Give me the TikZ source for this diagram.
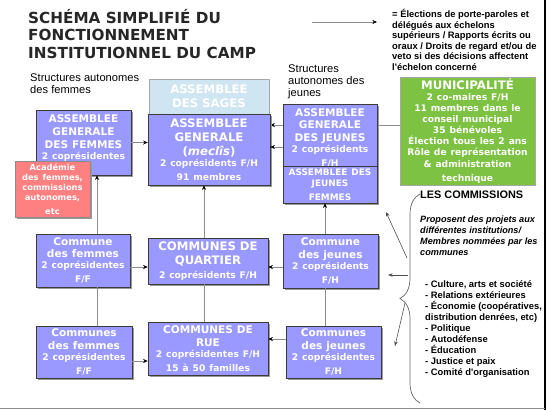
\documentclass[tikz,border=0pt]{standalone}
\usepackage{fontspec}
\setmainfont{DejaVu Sans}
\newfontfamily\arialfont{Liberation Sans}
\usetikzlibrary{arrows.meta,shadows,backgrounds,decorations.pathreplacing}

\definecolor{boxfill}{RGB}{153,153,255}
\definecolor{boxline}{RGB}{60,60,60}
\definecolor{sagesfill}{RGB}{207,229,242}
\definecolor{acadfill}{RGB}{255,128,128}
\definecolor{munifill}{RGB}{125,194,66}
\definecolor{linkgray}{RGB}{140,140,140}

\newcommand{\bigsz}{\fontsize{10}{12}\selectfont}
\newcommand{\midsz}{\fontsize{9}{11}\selectfont}
\newcommand{\smallsz}{\fontsize{7.8}{9.4}\selectfont}
\newcommand{\tinysz}{\fontsize{7.1}{8.5}\selectfont}

\tikzset{
  plainbox/.style={draw=boxline, fill=boxfill, text=white, font=\bfseries, align=center, inner sep=1pt},
  box/.style={plainbox, drop shadow={shadow xshift=1.5pt, shadow yshift=-1.5pt, fill=black!40, opacity=1}},
  link/.style={draw=linkgray, line width=0.7pt},
  arr/.style={link, -{Stealth[length=4pt, width=3.5pt, color=black]}},
  pointer/.style={draw=black!70, line width=0.5pt, -{Stealth[length=4pt, width=3pt]}},
  note/.style={font=\arialfont\bfseries, inner sep=0pt, align=left, anchor=north west},
}

\begin{document}
\begin{tikzpicture}[x=0.03cm, y=-0.03cm]
	\useasboundingbox (0,0) rectangle (547,410);
	% titles and legend
	\node[note, font=\fontsize{13}{15}\selectfont\bfseries, text=black!85] (title) at (28,9) {SCHÉMA SIMPLIFIÉ DU\\FONCTIONNEMENT\\INSTITUTIONNEL DU CAMP};
	\node[note, font=\arialfont\bfseries\fontsize{8}{9}\selectfont] (legend) at (392,9) {= Élections de porte-paroles et\\délégués aux échelons\\supérieurs / Rapports écrits ou\\oraux / Droits de regard et/ou de\\veto si des décisions affectent\\l'échelon concerné};
	\coordinate (legarrow) at (312,22);
	\draw[arr, line width=0.5pt] (legarrow) -- ++(65,0);
	\node[note, font=\arialfont\fontsize{9.5}{10.5}\selectfont] (strfemmes) at (30,73) {Structures autonomes\\des femmes};
	\node[note, font=\arialfont\fontsize{9.5}{10.5}\selectfont] (strjeunes) at (288,64) {Structures\\autonomes des\\jeunes};
	% middle column
	\node[plainbox, fill=sagesfill, draw=black!35, minimum width=3.6cm, minimum height=1.05cm, text width=3.5cm] (sages) at (209,96.5) {\bigsz ASSEMBLEE\\DES SAGES};
	\node[box, minimum width=3.66cm, minimum height=2.13cm, text width=3.58cm] (ag) at (209,149.5) {\bigsz ASSEMBLEE\\GENERALE\\(\textit{meclîs})\par\smallsz 2 coprésidents F/H\\91 membres};
	\node[box, minimum width=3.6cm, minimum height=1.38cm, text width=3.52cm] (cq) at (208,261) {\bigsz COMMUNES DE\\QUARTIER\par\smallsz 2 coprésidents F/H};
	\node[box, minimum width=3.6cm, minimum height=1.59cm, text width=3.52cm] (cr) at (208,348.5) {\midsz COMMUNES DE\\RUE\par\smallsz 2 coprésidentes F/H\\15 à 50 familles};
	% women
	\node[box, minimum width=2.85cm, minimum height=1.95cm, text width=2.77cm] (agf) at (83.5,142.5) {\midsz ASSEMBLEE\\GENERALE\\DES FEMMES\par\smallsz 2 coprésidentes\par\vspace{0.25cm}};
	\node[box, fill=acadfill, draw=black!45, minimum width=2.25cm, minimum height=1.68cm, text width=2.17cm] (acad) at (52.5,189) {\tinysz Académie\\des femmes,\\commissions\\autonomes,\\etc};
	\node[box, minimum width=2.82cm, minimum height=1.59cm, text width=2.74cm] (cf) at (83,260.5) {\midsz Commune\\des femmes\par\smallsz 2 coprésidentes\\F/F};
	\node[box, minimum width=2.88cm, minimum height=1.56cm, text width=2.8cm] (cfs) at (84,352) {\midsz Communes\\des femmes\par\smallsz 2 coprésidentes\\F/F};
	% youth
	\node[box, minimum width=2.82cm, minimum height=2.04cm, text width=2.74cm] (agj) at (330,138) {\midsz ASSEMBLEE\\GENERALE\\DES JEUNES\par\smallsz 2 coprésidents\\F/H};
	\node[box, minimum width=2.82cm, minimum height=1.11cm, text width=2.74cm] (ajf) at (330,184.5) {\fontsize{7.6}{9.4}\selectfont ASSEMBLEE DES\\JEUNES\\FEMMES};
	\node[box, minimum width=2.85cm, minimum height=1.62cm, text width=2.77cm] (cj) at (330.5,261) {\midsz Commune\\des jeunes\par\smallsz 2 coprésidents\\F/H};
	\node[box, minimum width=2.85cm, minimum height=1.56cm, text width=2.77cm] (cjs) at (333.5,352) {\midsz Communes\\des jeunes\par\smallsz 2 coprésidentes\\F/H};
	% municipality
	\node[plainbox, fill=munifill, draw=black!35, minimum width=4.05cm, minimum height=3.24cm, text width=3.97cm] (muni) at (467.5,131) {\bigsz MUNICIPALITÉ\par\smallsz 2 co-maires F/H\\11 membres dans le\\conseil municipal\\35 bénévoles\\Élection tous les 2 ans\\Rôle de représentation\\\& administration\\technique};
	% connectors
	\draw[arr] (agf.east) -- (agf.east -| ag.west);
	\draw[arr] (cf.north -| 97,0) -- (agf.south -| 97,0);
	\draw[link] (cfs.north -| 97,0) -- (cf.south -| 97,0);
	\draw[arr] (cf.east |- 0,267) -- (cq.west |- 0,267);
	\draw[arr] (cfs.east |- 0,361) -- (cr.west |- 0,361);
	\draw[arr] (cq.north -| 204,0) -- (ag.south -| 204,0);
	\draw[link] (cr.north -| 204,0) -- (cq.south -| 204,0);
	\begin{scope}[on background layer]
		\draw[arr] (muni.west |- 0,125) -- (ag.east |- 0,125);
	\end{scope}
	\draw[arr] (agj.west |- 0,147) -- (ag.east |- 0,147);
	\draw[arr] (cj.north -| 325,0) -- (ajf.south -| 325,0);
	\draw[link] (cjs.north -| 325,0) -- (cj.south -| 325,0);
	\draw[arr] (cj.west |- 0,267) -- (cq.east |- 0,267);
	\draw[arr] (cjs.west |- 0,339) -- (cr.east |- 0,339);
	% commissions
	\node[note, font=\arialfont\bfseries\fontsize{9.3}{11}\selectfont] (comtitle) at (420,191) {LES COMMISSIONS};
	\node[note, font=\arialfont\bfseries\itshape\fontsize{7.8}{9.4}\selectfont] (comrole) at (420,215.5) {Proposent des projets aux\\différentes institutions/\\Membres nommées par les\\communes};
	\node[note, font=\arialfont\bfseries\fontsize{8}{9.4}\selectfont] (comlist) at (425,280) {- Culture, arts et société\\- Relations extérieures\\- Économie (coopératives,\\distribution denrées, etc)\\- Politique\\- Autodéfense\\- Éducation\\- Justice et paix\\- Comité d'organisation};
	\coordinate (brbot) at (420,403);
	\coordinate (brtop) at (420,194);
	\draw[decorate, decoration={brace, amplitude=0.6cm}, draw=black!60, line width=0.6pt] (brbot) -- (brtop);
	\coordinate (pa) at (407,258);
	\coordinate (pb) at (408,275);
	\coordinate (pc) at (405,303);
	\draw[pointer] (pa) -- (386,212);
	\draw[pointer] (pb) -- (388,275);
	\draw[pointer] (pc) -- (395,346);
	% frame
	\draw[line width=1.5pt] (545.3,0) -- (545.3,410);
	\draw[black!45, line width=0.8pt] (0,408.6) -- (545,408.6);
\end{tikzpicture}
\end{document}
